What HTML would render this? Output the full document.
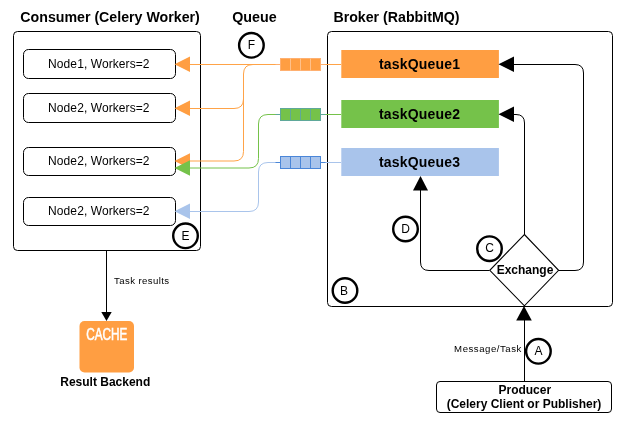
<!DOCTYPE html>
<html><head><meta charset="utf-8">
<style>
html,body{margin:0;padding:0;background:#fff;}
svg{display:block;will-change:transform;}
text{font-family:"Liberation Sans",sans-serif;}
.t{font-weight:bold;font-size:14px;fill:#000;}
.n{font-size:12px;fill:#000;}
.c{font-size:12px;fill:#000;}
</style></head>
<body>
<svg width="634" height="432" viewBox="0 0 634 432">
<!-- titles -->
<text class="t" x="20.3" y="21.8" style="font-size:14.2px">Consumer (Celery Worker)</text>
<text class="t" x="232.2" y="21.8" style="font-size:14.3px">Queue</text>
<text class="t" x="333.4" y="21.8" style="font-size:14.2px">Broker (RabbitMQ)</text>

<!-- consumer box -->
<rect x="13.5" y="31.5" width="187" height="219" rx="4" fill="none" stroke="#000" stroke-width="1"/>
<rect x="23.5" y="49.5" width="152" height="29" rx="5" fill="#fff" stroke="#000"/>
<rect x="23.5" y="93.5" width="152" height="29" rx="5" fill="#fff" stroke="#000"/>
<rect x="23.5" y="147.5" width="152" height="28" rx="5" fill="#fff" stroke="#000"/>
<rect x="23.5" y="197.5" width="152" height="28" rx="5" fill="#fff" stroke="#000"/>
<text class="n" x="48.1" y="68" textLength="101.4" lengthAdjust="spacing">Node1, Workers=2</text>
<text class="n" x="48.1" y="112" textLength="101.4" lengthAdjust="spacing">Node2, Workers=2</text>
<text class="n" x="48.1" y="165" textLength="101.4" lengthAdjust="spacing">Node2, Workers=2</text>
<text class="n" x="48.1" y="215" textLength="101.4" lengthAdjust="spacing">Node2, Workers=2</text>

<!-- broker box -->
<rect x="327.5" y="31.5" width="285" height="275" rx="4" fill="none" stroke="#000"/>
<rect x="341.3" y="50" width="157.6" height="28" fill="#FF9E42"/>
<rect x="341.3" y="100" width="157.6" height="28" fill="#75C24A"/>
<rect x="341.3" y="148" width="157.6" height="28" fill="#A9C4EB"/>
<text class="t" x="379" y="69" textLength="81" lengthAdjust="spacing" style="font-size:14px">taskQueue1</text>
<text class="t" x="379" y="119" textLength="81" lengthAdjust="spacing" style="font-size:14px">taskQueue2</text>
<text class="t" x="379" y="167" textLength="81" lengthAdjust="spacing" style="font-size:14px">taskQueue3</text>

<!-- colored connectors -->
<g fill="none" stroke-width="1">
<path d="M341 64.5 H190" stroke="#FFA347"/>
<path d="M253 64.5 Q243.5 64.5 243.5 74 V151.5 Q243.5 161 234 161 H190" stroke="#FFA347"/>
<path d="M243.5 99 Q243.5 108.5 234 108.5 H190" stroke="#FFA347"/>
<path d="M341 114.5 H268 Q258.5 114.5 258.5 124 V158.5 Q258.5 168 249 168 H190" stroke="#75C24A"/>
<path d="M341 162.5 H268 Q258.5 162.5 258.5 172 V202 Q258.5 211.5 249 211.5 H190" stroke="#A9C4EB"/>
</g>
<!-- arrowheads colored -->
<path d="M174.5 64.3 L190 56.6 V72 Z" fill="#FF9E42"/>
<path d="M174.5 108.3 L190 100.6 V116 Z" fill="#FF9E42"/>
<path d="M174.5 161 L190 153.3 V168.7 Z" fill="#FF9E42"/>
<path d="M174.5 168 L190 160.3 V175.7 Z" fill="#75C24A"/>
<path d="M174.5 211.3 L190 203.6 V219 Z" fill="#A9C4EB"/>

<!-- queue icons -->
<g stroke-width="1">
<path d="M275.5 64.5H280.5M320.5 64.5H325.5" stroke="#FFB070"/>
<rect x="280.5" y="58.5" width="40" height="12" fill="#FF9E42" stroke="#FFB070"/>
<path d="M290.5 58.5V70.5M300.5 58.5V70.5M310.5 58.5V70.5" stroke="#FFC08A"/>
<path d="M275.5 114.5H280.5M320.5 114.5H325.5" stroke="#5FA89A"/>
<rect x="280.5" y="108.5" width="40" height="12" fill="#75C24A" stroke="#5FA89A"/>
<path d="M290.5 108.5V120.5M300.5 108.5V120.5M310.5 108.5V120.5" stroke="#5FA89A"/>
<path d="M275.5 162.5H280.5M320.5 162.5H325.5" stroke="#4A86D8"/>
<rect x="280.5" y="156.5" width="40" height="12" fill="#A9C4EB" stroke="#4A86D8"/>
<path d="M290.5 156.5V168.5M300.5 156.5V168.5M310.5 156.5V168.5" stroke="#4A86D8"/>
</g>

<!-- black connectors in broker -->
<g fill="none" stroke="#000" stroke-width="1">
<path d="M524.5 234.5 V123 Q524.5 114.5 516 114.5 H513"/>
<path d="M558.5 270.5 H575 Q583.5 270.5 583.5 262 V73 Q583.5 64.5 575 64.5 H513"/>
<path d="M489.5 270.5 H429 Q420.5 270.5 420.5 262 V190"/>
<path d="M524.5 381.5 V320"/>
<path d="M106.5 250 V312"/>
</g>
<path d="M498.5 64.3 L514 56.6 V72 Z" fill="#000"/>
<path d="M498.5 114.3 L514 106.6 V122 Z" fill="#000"/>
<path d="M420.5 176 L413 190.6 H428 Z" fill="#000"/>
<path d="M524 306 L516.2 320.5 H531.8 Z" fill="#000"/>
<path d="M106.5 321 L101.3 312 H111.7 Z" fill="#000"/>

<!-- exchange diamond -->
<path d="M524.4 234.5 L558.6 270.3 L524.4 305.8 L489.8 270.3 Z" fill="#fff" stroke="#000" stroke-width="1.1"/>
<text x="525" y="274" text-anchor="middle" style="font-weight:bold;font-size:12px">Exchange</text>

<!-- circles -->
<g fill="#fff" stroke="#000" stroke-width="2.4">
<circle cx="251.4" cy="45.3" r="12.3"/>
<circle cx="185.5" cy="235.8" r="12.3"/>
<circle cx="405.5" cy="229" r="12.3"/>
<circle cx="489.5" cy="248.7" r="12.3"/>
<circle cx="345" cy="290.5" r="12.3"/>
<circle cx="538.4" cy="351.3" r="12.3"/>
</g>
<g class="c" text-anchor="middle">
<text x="251.4" y="49">F</text>
<text x="185.5" y="240">E</text>
<text x="405.5" y="233">D</text>
<text x="489.5" y="252">C</text>
<text x="344" y="295">B</text>
<text x="538.4" y="355">A</text>
</g>

<text x="454.1" y="352" textLength="67.2" lengthAdjust="spacing" style="font-size:9.6px">Message/Task</text>
<text x="114.1" y="284" textLength="54.9" lengthAdjust="spacing" style="font-size:9.6px">Task results</text>

<!-- cache -->
<rect x="79.5" y="321" width="54.5" height="51.5" rx="5" fill="#FF9E42"/>
<text x="0" y="0" transform="translate(106.8 340.2) scale(0.70 1)" text-anchor="middle" style="font-size:16.8px;fill:#fff;stroke:#fff;stroke-width:0.6">CACHE</text>
<text x="105.25" y="385.6" text-anchor="middle" style="font-weight:bold;font-size:12px">Result Backend</text>

<!-- producer -->
<rect x="436.5" y="381.5" width="175" height="31" rx="3.5" fill="#fff" stroke="#000"/>
<text x="524.8" y="394" text-anchor="middle" style="font-weight:bold;font-size:12px">Producer</text>
<text x="524" y="407.6" text-anchor="middle" style="font-weight:bold;font-size:12px">(Celery Client or Publisher)</text>
</svg>
</body></html>
